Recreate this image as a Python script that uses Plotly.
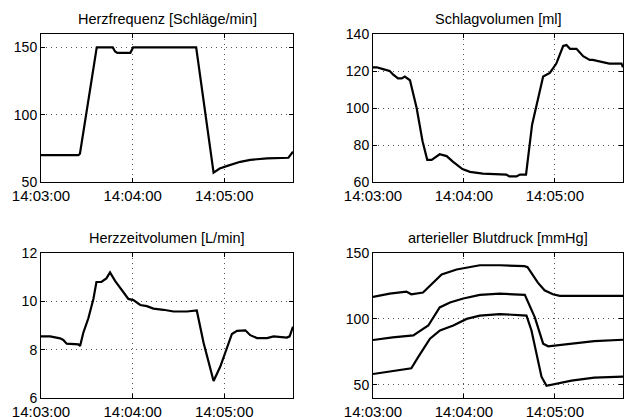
import plotly.graph_objects as go

# ---- data (seconds after 14:03:00) ----
tick_seconds = [0, 60, 120]
tick_labels = ["14:03:00", "14:04:00", "14:05:00"]

titles = ["Herzfrequenz [Schläge/min]", "Schlagvolumen [ml]",
          "Herzzeitvolumen [L/min]", "arterieller Blutdruck [mmHg]"]

t_hr = [0, 24.5, 25.5, 36.5, 47, 48.5, 50, 58.5, 60.3, 101.6, 113, 117, 122, 130.5, 137, 148, 162, 165]
hr = [70, 70, 71, 150, 150, 147, 146, 146, 150, 150, 57, 60, 62, 65, 66.5, 67.5, 68, 72.5]

t_sv = [0, 2.4, 6.6, 11, 13.4, 16.5, 19, 21, 24.4, 28.8, 32.7, 35.8, 38.7, 41, 44, 48.6, 52.7, 59, 64,
        72.5, 88, 90, 94.7, 97, 101, 105, 112.3, 116.7, 121, 125.5, 127.7, 130, 134.3, 138.7, 143, 145,
        151.9, 156, 164, 165]
sv = [122, 122, 121, 120, 118, 116, 116, 117, 115, 100, 82, 72, 72, 73.5, 75, 74, 71, 67, 65.5,
      64.5, 64, 63, 63, 64, 64, 91, 117, 119, 124, 133.5, 134, 132, 132, 128, 126, 126,
      125, 124, 124, 122]

t_co = [0, 6, 12.5, 14.6, 16.8, 23.4, 24.5, 25.6, 27.7, 31, 34.3, 36.3, 39.5, 42.8, 45.2, 48.5, 54, 57.2,
        60.5, 65, 69.3, 73.6, 80.2, 86.8, 95.5, 102, 106.4, 113, 117.4, 121.8, 125, 128.3, 133.8, 137,
        141.4, 148, 152.3, 161, 162.8, 165]
co = [8.55, 8.55, 8.47, 8.4, 8.25, 8.2, 8.22, 8.15, 8.7, 9.3, 10.1, 10.8, 10.8, 10.95, 11.2, 10.85, 10.4, 10.1,
      10.05, 9.85, 9.8, 9.7, 9.65, 9.58, 9.58, 9.62, 8.3, 6.7, 7.3, 8.1, 8.65, 8.78, 8.8, 8.6,
      8.48, 8.48, 8.55, 8.5, 8.55, 8.95]

t_sys = [0, 11, 22, 25.3, 33, 38.5, 45.3, 55.2, 70.5, 83.7, 100, 102, 108.8, 113.2, 118.7, 123.3, 165]
sys_bp = [116.7, 119.2, 120.7, 118.7, 120, 126.2, 133.7, 137.5, 140.7, 140.7, 140, 139.2, 127.5, 121.7, 118.7, 117.5, 117.5]

t_map = [0, 13, 26.6, 36.5, 44, 50.8, 59.6, 70.5, 83.7, 100.2, 106.8, 112.3, 115.6, 124.4, 146, 165]
map_bp = [84, 86, 87.5, 95, 108.7, 112.5, 115.5, 118.2, 119.2, 118.2, 101.2, 81.2, 79.2, 80.5, 83.2, 84.2]

t_dia = [0, 11, 25.3, 29.9, 37.6, 44.2, 53, 61.8, 70.5, 83.7, 101.3, 104.6, 111.2, 114.5, 122.2, 131, 146, 165]
dia_bp = [58.2, 60, 62.5, 71.2, 85, 91.2, 95, 100, 102.5, 103.7, 102.5, 91.2, 56.2, 49.2, 51.2, 53.2, 55.5, 56.2]

y_ranges = [[50, 160], [60, 140], [6, 12], [40, 150]]
y_ticks = [[50, 100, 150], [60, 80, 100, 120, 140], [6, 8, 10, 12], [50, 100, 150]]

# ---- figure ----
W, H = 627, 417
FONT = "Liberation Sans, Arial, Helvetica, sans-serif"
line = dict(color="black", width=2.2)

fig = go.Figure()
series = [
    (1, t_hr, hr), (2, t_sv, sv), (3, t_co, co),
    (4, t_sys, sys_bp), (4, t_map, map_bp), (4, t_dia, dia_bp),
]
for k, t, v in series:
    sfx = "" if k == 1 else str(k)
    fig.add_trace(go.Scatter(x=t, y=v, mode="lines", line=line,
                             xaxis="x" + sfx, yaxis="y" + sfx, showlegend=False,
                             hoverinfo="skip"))

# plot boxes in pixels: (left, top, right, bottom)
boxes = [(41, 34, 293, 182), (373, 34, 623, 182), (41, 253, 293, 398), (373, 253, 623, 398)]

common = dict(showline=True, linecolor="black", linewidth=1, mirror="allticks",
              ticks="inside", ticklen=4, tickcolor="black", tickwidth=1,
              showgrid=True, gridcolor="#555555", griddash="1px,4px", gridwidth=1,
              zeroline=False, automargin=False,
              tickfont=dict(family=FONT, size=14, color="black"))

annotations = []
for i, (l, t, r, b) in enumerate(boxes):
    k = i + 1
    sfx = "" if k == 1 else str(k)
    xd = [l / W, r / W]
    yd = [1 - b / H, 1 - t / H]
    fig.layout["xaxis" + sfx] = dict(common, domain=xd, anchor="y" + sfx, range=[0, 165],
                                     tickmode="array", tickvals=tick_seconds, ticktext=tick_labels,
                                     ticklabelstandoff=0,
                                     tickfont=dict(family=FONT, size=15, color="black"))
    fig.layout["yaxis" + sfx] = dict(common, domain=yd, anchor="x" + sfx, range=y_ranges[i],
                                     tickmode="array", tickvals=y_ticks[i])
    annotations.append(dict(text=titles[i], x=(xd[0] + xd[1]) / 2, y=1 - (t - 15) / H,
                            xref="paper", yref="paper", showarrow=False,
                            xanchor="center", yanchor="middle",
                            font=dict(family=FONT, size=14.5, color="black")))

fig.update_layout(width=W, height=H, margin=dict(l=0, r=0, t=0, b=0, autoexpand=False),
                  paper_bgcolor="white", plot_bgcolor="white",
                  annotations=annotations, font=dict(family=FONT, color="black"))

fig.write_html("out.html")
